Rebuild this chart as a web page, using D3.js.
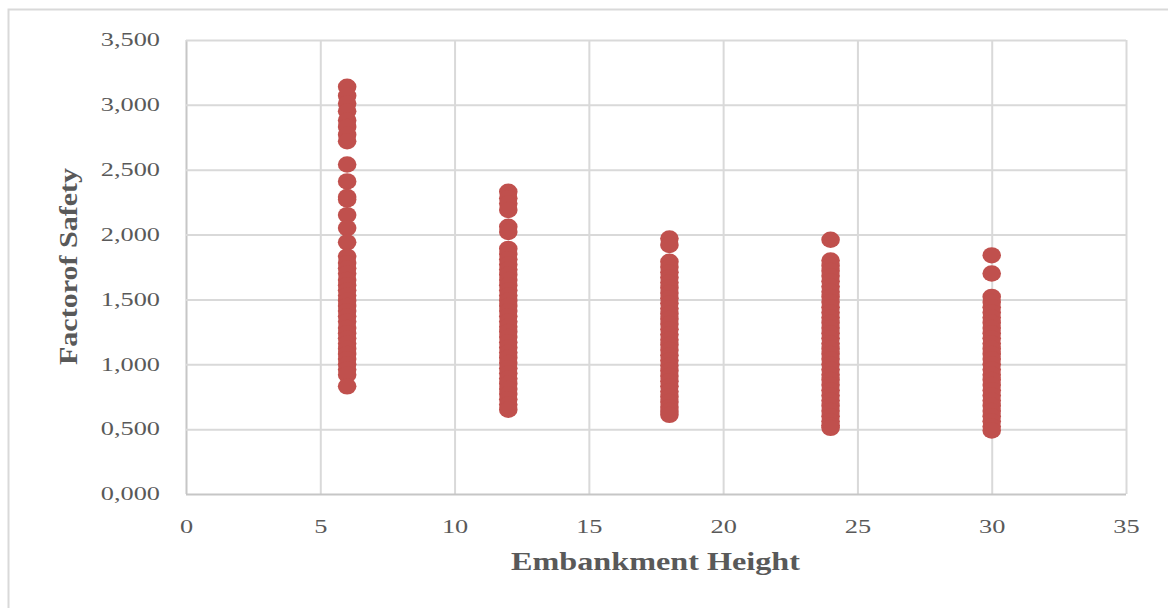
<!DOCTYPE html>
<html>
<head>
<meta charset="utf-8">
<script src="https://cdn.jsdelivr.net/npm/d3@7"></script>
<style>
  html, body { margin: 0; padding: 0; background: #fff; }
  svg { display: block; }
</style>
</head>
<body>
<svg id="chart" width="1168" height="608"></svg>
<script>
// Embankment heights tested (m)
const heights = [6, 12, 18, 24, 30];

// Factor of safety values computed for each embankment height
const fos6 = [3.14, 3.07, 3.01, 2.95, 2.88, 2.83, 2.77, 2.72,
  2.54, 2.41, 2.29, 2.27, 2.15, 2.05, 1.94,
  1.83, 1.78, 1.74, 1.70, 1.65, 1.61, 1.57, 1.53, 1.49, 1.45, 1.41, 1.37,
  1.33, 1.28, 1.24, 1.20, 1.16, 1.12, 1.08, 1.04, 1.00, 0.96, 0.92, 0.83];
const fos12 = [2.33, 2.28, 2.24, 2.19, 2.06, 2.02,
  1.89, 1.85, 1.81, 1.77, 1.73, 1.69, 1.65, 1.61, 1.57, 1.53, 1.49, 1.45,
  1.41, 1.37, 1.33, 1.29, 1.25, 1.21, 1.17, 1.13, 1.09, 1.05, 1.01, 0.97,
  0.93, 0.89, 0.85, 0.81, 0.77, 0.73, 0.69, 0.65];
const fos18 = [1.97, 1.92,
  1.79, 1.75, 1.71, 1.67, 1.63, 1.59, 1.55, 1.51, 1.47, 1.43, 1.39, 1.35,
  1.31, 1.27, 1.23, 1.19, 1.15, 1.11, 1.07, 1.03, 0.99, 0.95, 0.91, 0.87,
  0.83, 0.79, 0.75, 0.71, 0.67, 0.64, 0.61];
const fos24 = [1.96,
  1.80, 1.76, 1.72, 1.68, 1.64, 1.60, 1.56, 1.52, 1.48, 1.44, 1.40, 1.36,
  1.32, 1.28, 1.24, 1.20, 1.16, 1.12, 1.08, 1.04, 1.00, 0.96, 0.92, 0.88,
  0.84, 0.80, 0.76, 0.72, 0.68, 0.64, 0.60, 0.56, 0.53, 0.51];
const fos30 = [1.84, 1.70,
  1.52, 1.48, 1.44, 1.40, 1.36, 1.32, 1.28, 1.24, 1.20, 1.16, 1.12, 1.08,
  1.04, 1.00, 0.96, 0.92, 0.88, 0.84, 0.80, 0.76, 0.72, 0.68, 0.64, 0.60,
  0.56, 0.52, 0.49];

const xTicks = [0, 5, 10, 15, 20, 25, 30, 35];
const yTicks = [0, 0.5, 1, 1.5, 2, 2.5, 3, 3.5];

const xTitle = "Embankment Height";
const yTitle = "Factorof Safety";

// ---- layout ----
const svg = d3.select("#chart");
const plot = { left: 186, right: 1126, top: 40, bottom: 494 };
const textColor = "#595959";
const gridColor = "#d9d9d9";
const axisColor = "#c6c6c6";
const markerColor = "#c0504d";
const stretch = 1.35;

// outer chart frame
svg.append("rect")
  .attr("x", 8.5).attr("y", 9.5)
  .attr("width", 1200).attr("height", 640)
  .attr("fill", "#fff")
  .attr("stroke", "#d9d9d9").attr("stroke-width", 2);

const x = d3.scaleLinear().domain([0, 35]).range([plot.left, plot.right]);
const y = d3.scaleLinear().domain([0, 3.5]).range([plot.bottom, plot.top]);

const commaLocale = d3.formatLocale({ decimal: ",", thousands: ".", grouping: [3], currency: ["", ""] });
const yFmt = commaLocale.format(".3f");

// vertical gridlines + x tick labels
const gx = svg.append("g")
  .attr("transform", `translate(0,${plot.bottom})`)
  .call(d3.axisBottom(x).tickValues(xTicks).tickSize(-(plot.bottom - plot.top)).tickPadding(0).tickFormat(d3.format("d")));
gx.select(".domain").remove();
gx.selectAll(".tick line")
  .attr("stroke", d => d === 0 ? axisColor : gridColor)
  .attr("stroke-width", 2);
gx.selectAll(".tick text")
  .attr("fill", textColor)
  .attr("font-family", "'Liberation Serif', 'Times New Roman', serif")
  .attr("font-size", 19.5)
  .attr("y", 39).attr("dy", 0)
  .attr("transform", `scale(${stretch},1)`);

// horizontal gridlines + y tick labels
const gy = svg.append("g")
  .attr("transform", `translate(${plot.left},0)`)
  .call(d3.axisLeft(y).tickValues(yTicks).tickSize(-(plot.right - plot.left)).tickPadding(0).tickFormat(yFmt));
gy.select(".domain").remove();
gy.selectAll(".tick line")
  .attr("stroke", d => d === 0 ? axisColor : gridColor)
  .attr("stroke-width", 2);
gy.selectAll(".tick text")
  .attr("fill", textColor)
  .attr("font-family", "'Liberation Serif', 'Times New Roman', serif")
  .attr("font-size", 19.5)
  .attr("x", -26 / stretch).attr("dy", "0.3em")
  .attr("text-anchor", "end")
  .attr("transform", `scale(${stretch},1)`);

// bring the axis lines (x=0, y=0) to the front of the grid
gx.selectAll(".tick").filter(d => d === 0).raise();
gy.selectAll(".tick").filter(d => d === 0).raise();

// scatter points
const series = [fos6, fos12, fos18, fos24, fos30];
const points = [];
heights.forEach((h, i) => series[i].forEach(v => points.push({ h, v })));

svg.append("g")
  .selectAll("ellipse")
  .data(points)
  .join("ellipse")
  .attr("cx", d => x(d.h))
  .attr("cy", d => y(d.v))
  .attr("rx", 9.3)
  .attr("ry", 8.2)
  .attr("fill", markerColor);

// axis titles
svg.append("text")
  .attr("x", (511 + 800) / 2).attr("y", 570)
  .attr("text-anchor", "middle")
  .attr("fill", textColor)
  .attr("font-family", "'Liberation Serif', 'Times New Roman', serif")
  .attr("font-weight", "bold")
  .attr("font-size", 25)
  .attr("textLength", 289)
  .attr("lengthAdjust", "spacingAndGlyphs")
  .text(xTitle);

svg.append("text")
  .attr("transform", `translate(77,${(168 + 365) / 2}) rotate(-90)`)
  .attr("text-anchor", "middle")
  .attr("fill", textColor)
  .attr("font-family", "'Liberation Serif', 'Times New Roman', serif")
  .attr("font-weight", "bold")
  .attr("font-size", 25)
  .attr("textLength", 197)
  .attr("lengthAdjust", "spacingAndGlyphs")
  .text(yTitle);
</script>
</body>
</html>
